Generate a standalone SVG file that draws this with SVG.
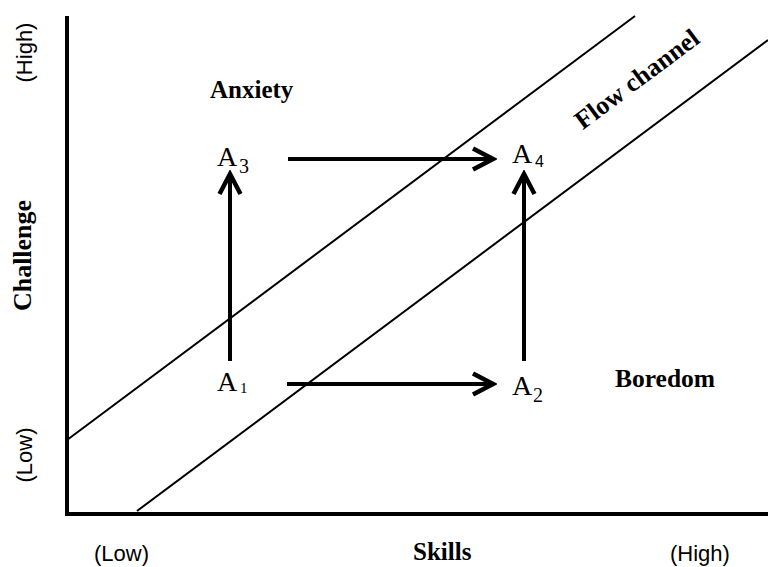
<svg xmlns="http://www.w3.org/2000/svg" width="768" height="567" viewBox="0 0 768 567">
<style>
.axis{fill:none;stroke:#000;stroke-width:4;stroke-linejoin:miter}
.diag{fill:none;stroke:#000;stroke-width:2}
.arr{fill:none;stroke:#000;stroke-width:4}
.lbl{font-family:"Liberation Serif","Times New Roman",serif;font-weight:bold;fill:#000}
.lvl{font-family:"Liberation Sans",Arial,sans-serif;font-size:22px;fill:#000}
.node{font-family:"Liberation Serif","Times New Roman",serif;font-size:28px;fill:#000}
</style>
<defs>
<marker id="head" markerUnits="userSpaceOnUse" viewBox="-26 -14 30 28" refX="0" refY="0" markerWidth="30" markerHeight="28" orient="auto">
<path d="M-20,-10.5 L0,0 L-20,10.5" fill="none" stroke="#000" stroke-width="4.5" stroke-linejoin="miter"/>
</marker>
</defs>
<rect width="768" height="567" fill="#fff"/>
<g id="axes">
<polyline class="axis" points="67,16 67,514 768,514"/>
<line class="diag" x1="67" y1="440" x2="635" y2="16"/>
<line class="diag" x1="137" y1="511" x2="768" y2="40"/>
</g>
<g id="axis-labels">
<text class="lvl" text-anchor="middle" transform="translate(32,52.5) rotate(-90)">(High)</text>
<text class="lvl" text-anchor="middle" transform="translate(32,455) rotate(-90)">(Low)</text>
<text class="lbl" font-size="26" text-anchor="middle" transform="translate(31,255.5) rotate(-90)">Challenge</text>
<text class="lvl" x="94" y="561">(Low)</text>
<text class="lvl" x="670" y="561">(High)</text>
<text class="lbl" font-size="25" x="413" y="560">Skills</text>
</g>
<g id="regions">
<text class="lbl" font-size="25" x="210" y="98">Anxiety</text>
<text class="lbl" font-size="25.5" x="615" y="387">Boredom</text>
<text class="lbl" font-size="26" text-anchor="middle" transform="translate(642,86) rotate(-36.7)">Flow channel</text>
</g>
<g id="A1"><text class="node" x="217" y="391">A<tspan font-size="15" x="240" y="393">1</tspan></text></g>
<g id="A2"><text class="node" x="512" y="395">A<tspan font-size="20" x="533" y="402">2</tspan></text></g>
<g id="A3"><text class="node" x="217" y="166">A<tspan font-size="20" x="239" y="173">3</tspan></text></g>
<g id="A4"><text class="node" x="512" y="163">A<tspan font-size="16" font-family="Liberation Sans, Arial, sans-serif" x="535" y="167">4</tspan></text></g>
<g id="connectors">
<line class="arr" x1="230" y1="361" x2="230" y2="174" marker-end="url(#head)"/>
<line class="arr" x1="524" y1="361" x2="524" y2="174" marker-end="url(#head)"/>
<line class="arr" x1="288" y1="159" x2="493" y2="159" marker-end="url(#head)"/>
<line class="arr" x1="287" y1="384" x2="493" y2="384" marker-end="url(#head)"/>
</g>
</svg>
